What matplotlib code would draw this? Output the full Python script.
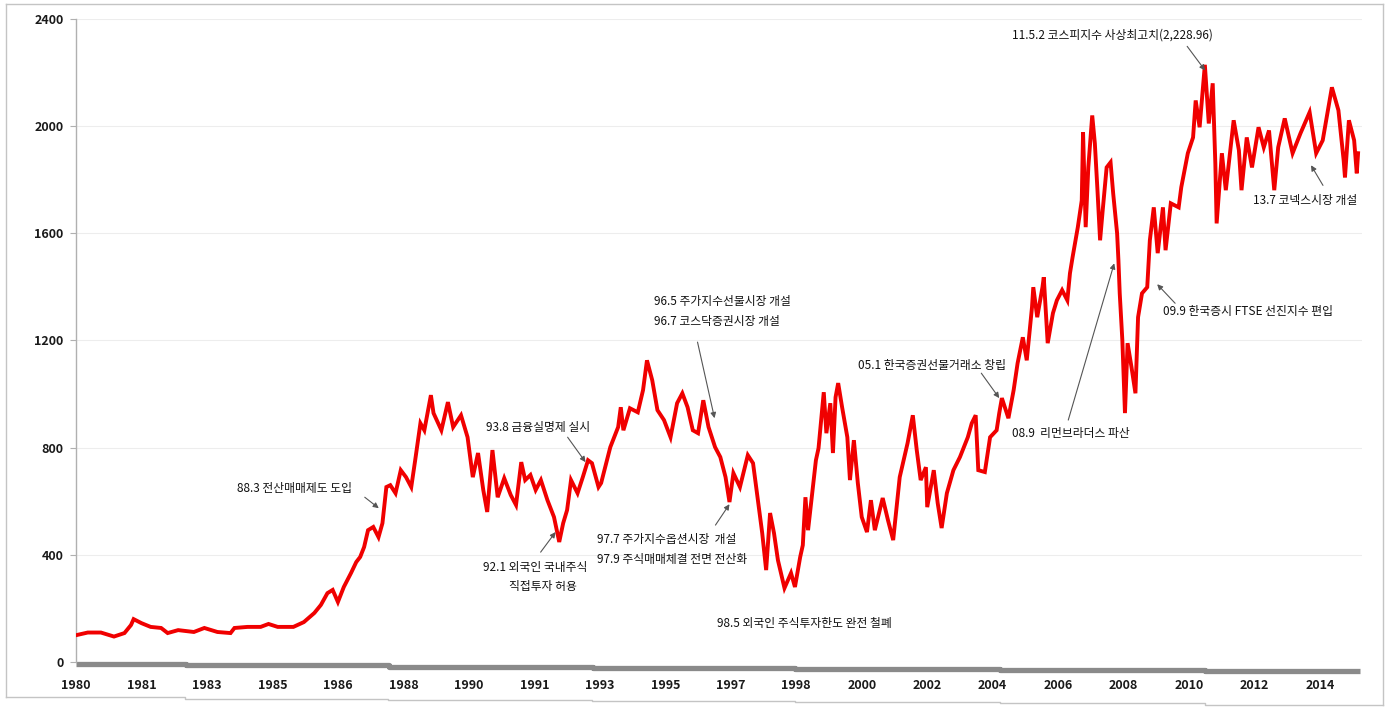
import numpy as np
import matplotlib.pyplot as plt

plt.rcParams['font.family'] = ['Noto Sans CJK KR', 'DejaVu Sans']

# trading-day index (one axis label every 500 days) and KOSPI level
days = [0, 90, 190, 290, 370, 420, 440, 500, 570, 650,
        700, 780, 900, 980, 1080, 1180, 1210, 1310, 1410, 1470,
        1540, 1660, 1740, 1820, 1870, 1920, 1960, 2000, 2045, 2100,
        2140, 2170, 2200, 2230, 2270, 2310, 2340, 2370, 2400, 2440,
        2480, 2520, 2560, 2590, 2630, 2660, 2710, 2730, 2790, 2840,
        2880, 2940, 2990, 3030, 3070, 3110, 3140, 3180, 3220, 3270,
        3320, 3360, 3400, 3430, 3470, 3510, 3550, 3600, 3650, 3690,
        3720, 3750, 3780, 3830, 3870, 3910, 3940, 3990,
        4010, 4080, 4140, 4160, 4180, 4230, 4290, 4330, 4360, 4400,
        4440, 4490, 4540, 4590, 4630, 4670, 4710, 4750, 4790, 4830,
        4880, 4920, 4960, 4990, 5020, 5070, 5130, 5170, 5200, 5240,
        5270, 5300, 5330, 5360, 5410, 5460, 5490, 5530, 5550, 5570,
        5590, 5650, 5670, 5710, 5730, 5760, 5780, 5800, 5820, 5850,
        5890, 5910, 5940, 5970, 6000, 6040, 6070, 6100, 6160, 6200,
        6240, 6290, 6350, 6390, 6420, 6450, 6490, 6500, 6550, 6580,
        6610, 6650, 6700, 6750, 6810, 6840, 6870, 6890, 6940, 6980,
        7030, 7050, 7070, 7100, 7120, 7160, 7190, 7230, 7260, 7300,
        7310, 7340, 7380, 7390, 7420, 7460, 7490, 7530, 7570, 7590,
        7610, 7650, 7680, 7690, 7710, 7730, 7760, 7780, 7800, 7820,
        7840, 7870, 7900, 7920, 7950, 7960, 7970, 7990, 8010, 8030,
        8060, 8090, 8110, 8140, 8180, 8200,
        8230, 8260, 8300, 8320, 8360, 8420, 8440, 8490, 8530,
        8550, 8580, 8620, 8650, 8680, 8700, 8710, 8750, 8780, 8840,
        8880, 8900, 8940, 8980, 9030, 9070, 9110, 9150, 9180, 9230,
        9290, 9350, 9420, 9470, 9520, 9590, 9640, 9680, 9690, 9720,
        9760, 9780, 9790]

kospi = [100, 110, 110, 95, 108, 138, 160, 145, 131, 127,
         108, 119, 112, 127, 112, 108, 127, 131, 131, 142,
         131, 131, 149, 183, 213, 257, 269, 224, 280, 332,
         373, 392, 429, 492, 504, 466, 518, 653, 660, 630,
         716, 690, 653, 753, 891, 865, 996, 929, 865, 970,
         877, 921, 839, 690, 780, 642, 560, 791, 615, 686,
         623, 586, 746, 679, 698, 642, 679, 604, 541, 448,
         518, 567, 679, 630, 690, 753, 742, 653,
         668, 802, 877, 951, 865, 947, 932, 1015, 1126, 1052,
         940, 903, 839, 966, 1003, 951, 865, 854, 977, 877,
         802, 765, 690, 597, 705, 653, 772, 742, 630, 481,
         343, 556, 481, 380, 276, 332, 280, 392, 436, 615,
         492, 753, 798, 1007, 854, 966, 780, 988, 1041, 951,
         839, 679, 828, 668, 541, 485, 604, 492, 612, 530,
         455, 690, 817, 921, 791, 679, 727, 578, 716, 593,
         500, 630, 716, 765, 839, 891, 921, 716, 709, 839,
         865, 929, 985, 940, 910, 1015, 1115, 1212, 1126, 1324,
         1399, 1287, 1399, 1436, 1190, 1302, 1350, 1388, 1350, 1451,
         1511, 1623, 1723, 1977, 1623, 1846, 2040, 1936, 1761, 1574,
         1686, 1846, 1865, 1749, 1600, 1500, 1376, 1201, 929, 1190,
         1100, 1003, 1287, 1376, 1399, 1574,
         1697, 1526, 1697, 1537, 1712, 1697, 1772, 1899, 1958,
         2096, 1996, 2229, 2010, 2160, 1861, 1637, 1899, 1761, 2022,
         1910, 1761, 1958, 1846, 1996, 1921, 1984, 1761, 1921, 2029,
         1899, 1973, 2052, 1899, 1947, 2145, 2059, 1872, 1809, 2022,
         1947, 1824, 1899]

tick_labels = ['1980', '1981', '1983', '1985', '1986', '1988', '1990', '1991',
               '1993', '1995', '1997', '1998', '2000', '2002', '2004', '2006',
               '2008', '2010', '2012', '2014']

# annotations: text lines, text anchor (day, level), alignment
note_texts = ['88.3 전산매매제도 도입', '93.8 금융실명제 실시',
              '92.1 외국인 국내주식', '직접투자 허용',
              '96.5 주가지수선물시장 개설', '96.7 코스닥증권시장 개설',
              '97.7 주가지수옵션시장  개설', '97.9 주식매매체결 전면 전산화',
              '98.5 외국인 주식투자한도 완전 철폐', '05.1 한국증권선물거래소 창립',
              '08.9  리먼브라더스 파산', '09.9 한국증시 FTSE 선진지수 편입',
              '11.5.2 코스피지수 사상최고치(2,228.96)', '13.7 코넥스시장 개설']
note_x = [1671, 3525, 3510, 3563, 4410, 4410, 3975, 3975, 4891, 5974, 7149, 8301, 7149, 8988]
note_y = [649, 877, 354, 280, 1347, 1272, 459, 384, 145, 1108, 854, 1309, 2339, 1723]
note_ha = ['center', 'center', 'center', 'center', 'left', 'left', 'left', 'left',
           'left', 'left', 'left', 'left', 'left', 'left']

# arrows: tail (day, level) -> head (day, level)
arrow_tail = [(2205, 615), (3754, 839), (3548, 410), (4746, 1194), (4883, 511),
              (6913, 1078), (7577, 903), (8393, 1339), (8485, 2298), (9522, 1779)]
arrow_head = [(2312, 574), (3891, 746), (3662, 485), (4876, 910), (4990, 589),
              (7050, 985), (7928, 1488), (8256, 1410), (8622, 2208), (9431, 1854)]

fig = plt.figure(figsize=(13.88, 7.08), dpi=100)

# light grey frame around the (stitched) screenshot
frame = fig.add_axes([0, 0, 1, 1], zorder=-1)
frame.set_xlim(0, 1388)
frame.set_ylim(708, 0)
frame.axis('off')
fc = '#c4c4c4'
frame.plot([6, 6], [4, 697], color=fc, lw=1)
frame.plot([6, 1383], [4, 4], color=fc, lw=1)
frame.plot([1383, 1383], [4, 705], color=fc, lw=1)
frame.step([6, 185, 388, 592, 795, 1000, 1205, 1383],
           [697, 699, 700, 701, 702, 703, 705, 705], where='post', color=fc, lw=1)

ax = fig.add_axes([76 / 1388, 1 - 662 / 708, 1286 / 1388, 643 / 708])
ax.plot(days, kospi, color='#f00000', lw=2.8, solid_joinstyle='miter', zorder=3)

# thick grey base bar (slightly stepped, as in the pasted original)
bar_x = [0, 839, 2388, 3945, 5494, 7058, 8622, 9805]
bar_y = [-6, -11, -17, -21, -26, -30, -34, -34]
ax.step(bar_x, bar_y, where='post', color='#8a8a8a', lw=3.8, clip_on=False,
        solid_capstyle='butt', zorder=2)

ax.set_xlim(8, 9820)
ax.set_ylim(0, 2400)
ax.set_yticks(np.arange(0, 2401, 400))
ax.set_xticks(np.arange(len(tick_labels)) * 500)
ax.set_xticklabels(tick_labels)

for s in ['top', 'right', 'bottom']:
    ax.spines[s].set_visible(False)
ax.spines['left'].set_color('#b0b0b0')
ax.spines['left'].set_linewidth(1)
ax.grid(axis='y', color='#ededed', lw=0.8)
ax.set_axisbelow(True)
ax.tick_params(axis='y', length=4, color='#b0b0b0', pad=5, labelsize=9, labelcolor='#1a1a1a')
ax.tick_params(axis='x', length=0, pad=12, labelsize=9, labelcolor='#1a1a1a')
for lab in ax.get_xticklabels() + ax.get_yticklabels():
    lab.set_fontweight('bold')

for t, x, y, ha in zip(note_texts, note_x, note_y, note_ha):
    ax.text(x, y, t, ha=ha, va='center', fontsize=8.5, color='#111111',
            fontweight='medium', zorder=4)

for tail, head in zip(arrow_tail, arrow_head):
    ax.annotate('', xy=head, xytext=tail,
                arrowprops=dict(arrowstyle='-|>', color='#555555', lw=0.8,
                                mutation_scale=8, shrinkA=0, shrinkB=0), zorder=4)

fig.savefig('out.png', dpi=100)
